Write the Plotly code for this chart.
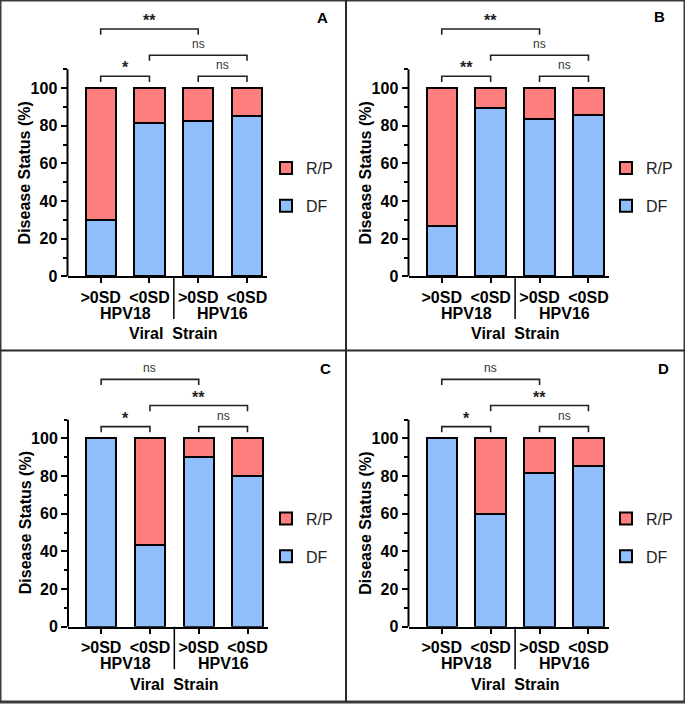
import plotly.graph_objects as go

# ---------------- data ----------------
CATEGORIES = [">0SD", "<0SD", ">0SD", "<0SD"]
GROUPS = ["HPV18", "HPV18", "HPV16", "HPV16"]
PANEL_LABELS = ["A", "B", "C", "D"]
DF_A = [30.0, 81.5, 82.5, 85.0]
DF_B = [26.7, 89.5, 83.5, 85.5]
DF_C = [100.0, 43.5, 90.0, 80.0]
DF_D = [100.0, 60.0, 81.5, 85.5]
SIG_A = ["*", "ns", "ns", "**"]
SIG_B = ["**", "ns", "ns", "**"]
SIG_C = ["*", "ns", "**", "ns"]
SIG_D = ["*", "ns", "**", "ns"]
COMPARISONS = [(0, 1), (2, 3), (1, 3), (0, 2)]
BRACKET_LEVELS = [106.3, 106.3, 117.5, 131.4]
Y_TICKS = [0, 20, 40, 60, 80, 100]
Y_MINOR = [10, 30, 50, 70, 90, 110]
Y_AXIS_TOP = 110
Y_RANGE = [0, 140]
X_RANGE = [-0.68, 3.41]

DF_ALL = [DF_A, DF_B, DF_C, DF_D]
SIG_ALL = [SIG_A, SIG_B, SIG_C, SIG_D]

# ---------------- style ----------------
W, H = 685, 711
BLUE = "#90BFFC"
RED = "#FF7F7F"
FONT = "Liberation Sans, Arial, sans-serif"
FS = 16
PX_PER_UNIT = 1.907
# (left, right, bottom) of each plot in pixels
GEOM = [(67.5, 267.0, 280.0), (408.5, 608.5, 280.0),
        (68.0, 267.5, 634.8), (408.5, 608.5, 634.8)]
LETTER_POS = [(322, 18), (659, 17), (325, 373), (663, 373)]
LEGEND_POS = [(266, 153), (606, 153), (266, 508), (606, 508)]


def fx(px):
    return px / W


def fy(px):
    return 1 - px / H


fig = go.Figure()
shapes = []
annotations = []
layout = {}

for i, (df, sig) in enumerate(zip(DF_ALL, SIG_ALL)):
    n = "" if i == 0 else str(i + 1)
    xa, ya = "x" + n, "y" + n
    lg = "legend" + n
    pos = list(range(len(CATEGORIES)))
    rp = [100 - v for v in df]

    fig.add_trace(go.Bar(x=pos, y=df, name="DF", xaxis=xa, yaxis=ya,
                         marker=dict(color=BLUE, line=dict(color="black", width=2)),
                         width=0.62, legend=lg, legendgroup="df" + n, legendrank=2,
                         hoverinfo="skip"))
    fig.add_trace(go.Bar(x=pos, y=rp, name="R/P", xaxis=xa, yaxis=ya,
                         marker=dict(color=RED, line=dict(color="black", width=2)),
                         width=0.62, legend=lg, legendgroup="rp" + n, legendrank=1,
                         hoverinfo="skip"))

    left, right, bottom = GEOM[i]
    top = bottom - (Y_RANGE[1] - Y_RANGE[0]) * PX_PER_UNIT
    layout["xaxis" + n] = dict(
        domain=[fx(left), fx(right)], range=X_RANGE, anchor=ya,
        tickvals=pos, ticktext=CATEGORIES, showline=True, linecolor="black",
        linewidth=2, ticks="outside", ticklen=5, tickwidth=1.5, tickcolor="black",
        tickfont=dict(family=FONT, size=FS, color="black", weight="bold"),
        showgrid=False, zeroline=False, fixedrange=True)
    layout["yaxis" + n] = dict(
        domain=[fy(bottom), fy(top)], range=Y_RANGE, anchor=xa,
        tickvals=Y_TICKS, showline=False, ticks="outside", ticklen=6,
        tickwidth=2, tickcolor="black",
        minor=dict(tickvals=Y_MINOR, ticklen=3.5, tickwidth=1.5,
                   tickcolor="black", ticks="outside"),
        tickfont=dict(family=FONT, size=FS, color="black", weight="bold"),
        showgrid=False, zeroline=False, fixedrange=True)

    # y axis line up to 110
    shapes.append(dict(type="line", xref=xa + " domain", yref=ya, x0=0, x1=0,
                       y0=0, y1=Y_AXIS_TOP, line=dict(color="black", width=2)))

    # group labels and separator
    grp_names = list(dict.fromkeys(GROUPS))
    for g in grp_names:
        idx = [p for p, gg in zip(pos, GROUPS) if gg == g]
        annotations.append(dict(x=sum(idx) / len(idx), y=0, xref=xa, yref=ya,
                                text=g, showarrow=False, yshift=-37,
                                xanchor="center", yanchor="middle",
                                font=dict(family=FONT, size=FS, color="black",
                                          weight="bold")))
    sep_x = (max(p for p, g in zip(pos, GROUPS) if g == grp_names[0]) +
             min(p for p, g in zip(pos, GROUPS) if g == grp_names[1])) / 2
    shapes.append(dict(type="line", xref=xa, yref=ya + " domain", x0=sep_x,
                       x1=sep_x, y0=0, y1=-43 / (bottom - top),
                       line=dict(color="black", width=1.5)))

    annotations.append(dict(x=sum(pos) / len(pos), y=0, xref=xa, yref=ya,
                            text="Viral\u00a0 Strain", showarrow=False, yshift=-57.5,
                            xanchor="center", yanchor="middle",
                            font=dict(family=FONT, size=FS, color="black",
                                      weight="bold")))
    annotations.append(dict(x=0, y=Y_AXIS_TOP / 2, xref=xa + " domain", yref=ya,
                            text="Disease Status (%)", textangle=-90,
                            showarrow=False, xshift=-43,
                            xanchor="center", yanchor="middle",
                            font=dict(family=FONT, size=FS, color="black",
                                      weight="bold")))

    # significance brackets
    for (a, b), lev, s in zip(COMPARISONS, BRACKET_LEVELS, sig):
        shapes.append(dict(type="path", xref=xa, yref=ya,
                           path=f"M {a},{lev - 3} L {a},{lev} L {b},{lev} L {b},{lev - 3}",
                           line=dict(color="#222222", width=1.6)))
        if s == "ns":
            annotations.append(dict(x=(a + b) / 2, y=lev, xref=xa, yref=ya,
                                    text=s, showarrow=False, yanchor="bottom",
                                    xanchor="center", yshift=2,
                                    font=dict(family=FONT, size=12, color="#333333")))
        else:
            annotations.append(dict(x=(a + b) / 2, y=lev, xref=xa, yref=ya,
                                    text=s, showarrow=False, yanchor="bottom",
                                    xanchor="center", yshift=-2,
                                    font=dict(family=FONT, size=16, color="#222222",
                                              weight="bold")))

    # panel letter
    lx, ly = LETTER_POS[i]
    annotations.append(dict(x=fx(lx), y=fy(ly), xref="paper", yref="paper",
                            text=PANEL_LABELS[i], showarrow=False,
                            xanchor="center", yanchor="middle",
                            font=dict(family=FONT, size=15, color="black",
                                      weight="bold")))

    gx, gy = LEGEND_POS[i]
    layout[lg] = dict(x=fx(gx), y=fy(gy), xanchor="left", yanchor="top",
                      traceorder="grouped", tracegroupgap=14,
                      bgcolor="rgba(0,0,0,0)",
                      font=dict(family=FONT, size=FS, color="#222222"))

# panel frame
shapes.append(dict(type="rect", xref="paper", yref="paper", x0=0, x1=1, y0=0, y1=1,
                   line=dict(color="#3a3a3a", width=3)))
shapes.append(dict(type="line", xref="paper", yref="paper", x0=fx(346), x1=fx(346),
                   y0=0, y1=1, line=dict(color="#2a2a2a", width=2)))
shapes.append(dict(type="line", xref="paper", yref="paper", x0=0, x1=1,
                   y0=fy(355), y1=fy(355), line=dict(color="#2a2a2a", width=2)))

fig.update_layout(
    width=W, height=H, autosize=False, margin=dict(l=0, r=0, t=0, b=0),
    paper_bgcolor="white", plot_bgcolor="white",
    barmode="stack", bargap=0.38, showlegend=True,
    font=dict(family=FONT, color="black"),
    shapes=shapes, annotations=annotations, **layout)

fig.write_html("out.html",
               config={"displayModeBar": False, "responsive": False},
               default_width=f"{W}px", default_height=f"{H}px",
               post_script="document.body.style.margin='0px';"
                           "document.body.style.overflow='hidden';"
                           "document.documentElement.style.overflow='hidden';")
